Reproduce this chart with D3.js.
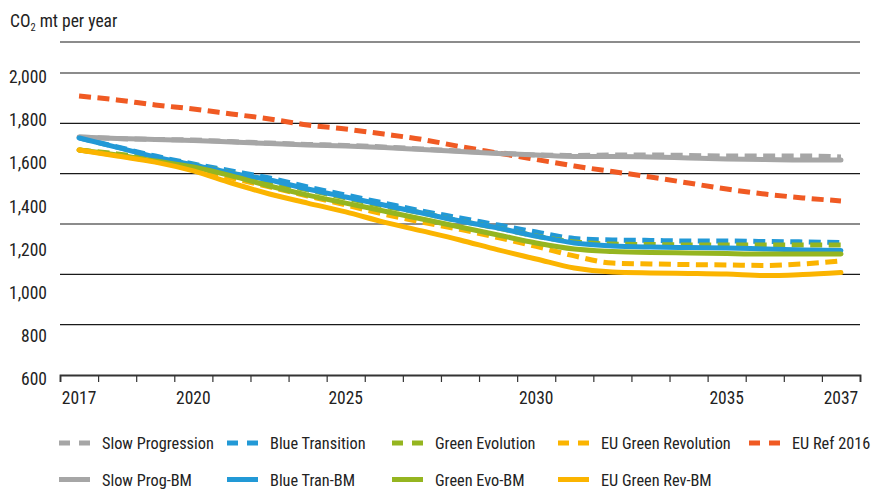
<!DOCTYPE html>
<html><head><meta charset="utf-8">
<script src="https://cdn.jsdelivr.net/npm/d3@7/dist/d3.min.js"></script>
<style>
html,body{margin:0;padding:0;background:#fff;}
svg{display:block;font-family:"Liberation Sans Narrow","Roboto Condensed","DejaVu Sans Condensed","Arial Narrow",sans-serif;font-stretch:condensed;}
</style></head>
<body>
<script>
// ---- data ----
const categoryCount = 21;
const tickIndex = [0, 3, 7, 12, 17, 20];
const tickLabels = ["2017", "2020", "2025", "2030", "2035", "2037"];
const yTickValues = [600, 800, 1000, 1200, 1400, 1600, 1800, 2000];
const gridValues = [833.3, 1066.7, 1300, 1533.3, 1766.7, 2000, 2143.7];

const seriesNames = ["Slow Progression", "Blue Transition", "Green Evolution", "EU Green Revolution", "EU Ref 2016",
                     "Slow Prog-BM", "Blue Tran-BM", "Green Evo-BM", "EU Green Rev-BM"];
const seriesColors = ["#a6a6a6", "#2299d6", "#95b520", "#fbb400", "#f05a23",
                      "#a6a6a6", "#2299d6", "#95b520", "#fbb400"];
const seriesDashed = [true, true, true, true, true, false, false, false, false];

const slowProgression = [1703,1696,1692,1689,1682,1675,1669,1664,1657,1648,1638,1629,1620,1618,1620,1620,1618,1615,1615,1615,1611];
const blueTransition  = [1699,1657,1615,1578,1546,1513,1472,1434,1397,1360,1328,1295,1263,1233,1226,1224,1221,1221,1219,1217,1214];
const greenEvolution  = [1643,1625,1601,1574,1536,1495,1458,1421,1383,1351,1314,1281,1244,1217,1207,1205,1203,1203,1203,1203,1203];
const euGreenRevolution = [1643,1618,1590,1555,1513,1472,1430,1388,1346,1309,1275,1237,1196,1152,1119,1115,1112,1110,1108,1115,1129];
const euRef2016       = [1893,1875,1852,1833,1810,1787,1759,1740,1717,1692,1659,1629,1599,1569,1543,1518,1490,1462,1439,1421,1407];
const slowProgBM      = [1703,1696,1692,1687,1680,1673,1666,1662,1655,1645,1636,1627,1620,1613,1613,1611,1606,1601,1599,1597,1597];
const blueTranBM      = [1699,1655,1611,1574,1536,1504,1462,1425,1388,1351,1314,1281,1244,1212,1198,1193,1191,1189,1184,1180,1177];
const greenEvoBM      = [1643,1620,1592,1564,1523,1476,1434,1397,1360,1323,1286,1249,1212,1184,1173,1168,1166,1163,1161,1161,1161];
const euGreenRevBM    = [1643,1615,1587,1546,1490,1439,1397,1356,1309,1268,1226,1180,1138,1096,1077,1073,1071,1068,1061,1066,1075];

const seriesValues = [slowProgression, blueTransition, greenEvolution, euGreenRevolution, euRef2016,
                      slowProgBM, blueTranBM, greenEvoBM, euGreenRevBM];

// ---- layout ----
const W = 875, H = 491;
const plotLeft = 60, plotRight = 860, plotTop = 73, plotBottom = 375;

const svg = d3.select("body").append("svg").attr("width", W).attr("height", H);

const x = d3.scaleLinear().domain([0, categoryCount]).range([plotLeft, plotRight]);
const y = d3.scaleLinear().domain([600, 2000]).range([plotBottom, plotTop]);

// title
const title = svg.append("text").attr("x", 10).attr("y", 27).attr("font-size", 17.5).attr("fill", "#222");
title.append("tspan").text("CO");
title.append("tspan").text("2").attr("font-size", 10.5).attr("dy", 4);
title.append("tspan").text(" mt per year").attr("dy", -4);

// gridlines
svg.append("g").selectAll("line").data(gridValues).join("line")
  .attr("x1", plotLeft).attr("x2", plotRight)
  .attr("y1", d => y(d)).attr("y2", d => y(d))
  .attr("stroke", "#1a1a1a").attr("stroke-width", 1.2);

// y labels
const yAxis = d3.axisLeft(y).tickValues(yTickValues).tickSize(0).tickPadding(13)
  .tickFormat(d3.format(","));
const gy = svg.append("g").attr("transform", `translate(${plotLeft},0)`).call(yAxis);
gy.attr("font-family", null).attr("font-size", null);
gy.select(".domain").remove();
gy.selectAll("text").attr("font-size", 17.5).attr("fill", "#222").attr("dy", "0.55em");

// x axis
const xAxis = d3.axisBottom(x).tickValues(d3.range(categoryCount + 1)).tickSize(7).tickFormat("");
const gx = svg.append("g").attr("transform", `translate(0,${plotBottom})`).call(xAxis);
gx.attr("font-family", null).attr("font-size", null);
gx.select(".domain").attr("stroke", "#333").attr("stroke-width", 1.8);
gx.selectAll(".tick line").attr("stroke", "#333").attr("stroke-width", 1.2);

svg.append("g").selectAll("text").data(tickIndex).join("text")
  .attr("x", d => x(d + 0.5)).attr("y", 404)
  .attr("text-anchor", "middle").attr("font-size", 17.5).attr("fill", "#222")
  .text((d, i) => tickLabels[i]);

// lines
const line = d3.line().x((d, i) => x(i + 0.5)).y(d => y(d)).curve(d3.curveMonotoneX);
const gl = svg.append("g");
seriesValues.forEach((vals, k) => {
  gl.append("path").datum(vals)
    .attr("d", line).attr("fill", "none")
    .attr("stroke", seriesColors[k]).attr("stroke-width", 5)
    .attr("stroke-dasharray", seriesDashed[k] ? "12,6.5" : null)
    .attr("stroke-linecap", seriesDashed[k] ? "butt" : "round")
    .attr("stroke-linejoin", "round");
});

// legend
const legendCols = [59, 227, 392, 558, 749];
const legendRows = [443, 479.5];
const legendOrder = [[0,0],[0,1],[0,2],[0,3],[0,4],[1,0],[1,1],[1,2],[1,3]];
const lg = svg.append("g");
seriesNames.forEach((name, k) => {
  const [r, c] = legendOrder[k];
  const lx = legendCols[c], ly = legendRows[r];
  lg.append("line").attr("x1", lx).attr("x2", lx + 31).attr("y1", ly).attr("y2", ly)
    .attr("stroke", seriesColors[k]).attr("stroke-width", 5)
    .attr("stroke-dasharray", seriesDashed[k] ? "11,9" : null);
  lg.append("text").attr("x", lx + 43).attr("y", ly + 6)
    .attr("font-size", 16.3).attr("fill", "#222").text(name);
});
</script>
</body></html>
